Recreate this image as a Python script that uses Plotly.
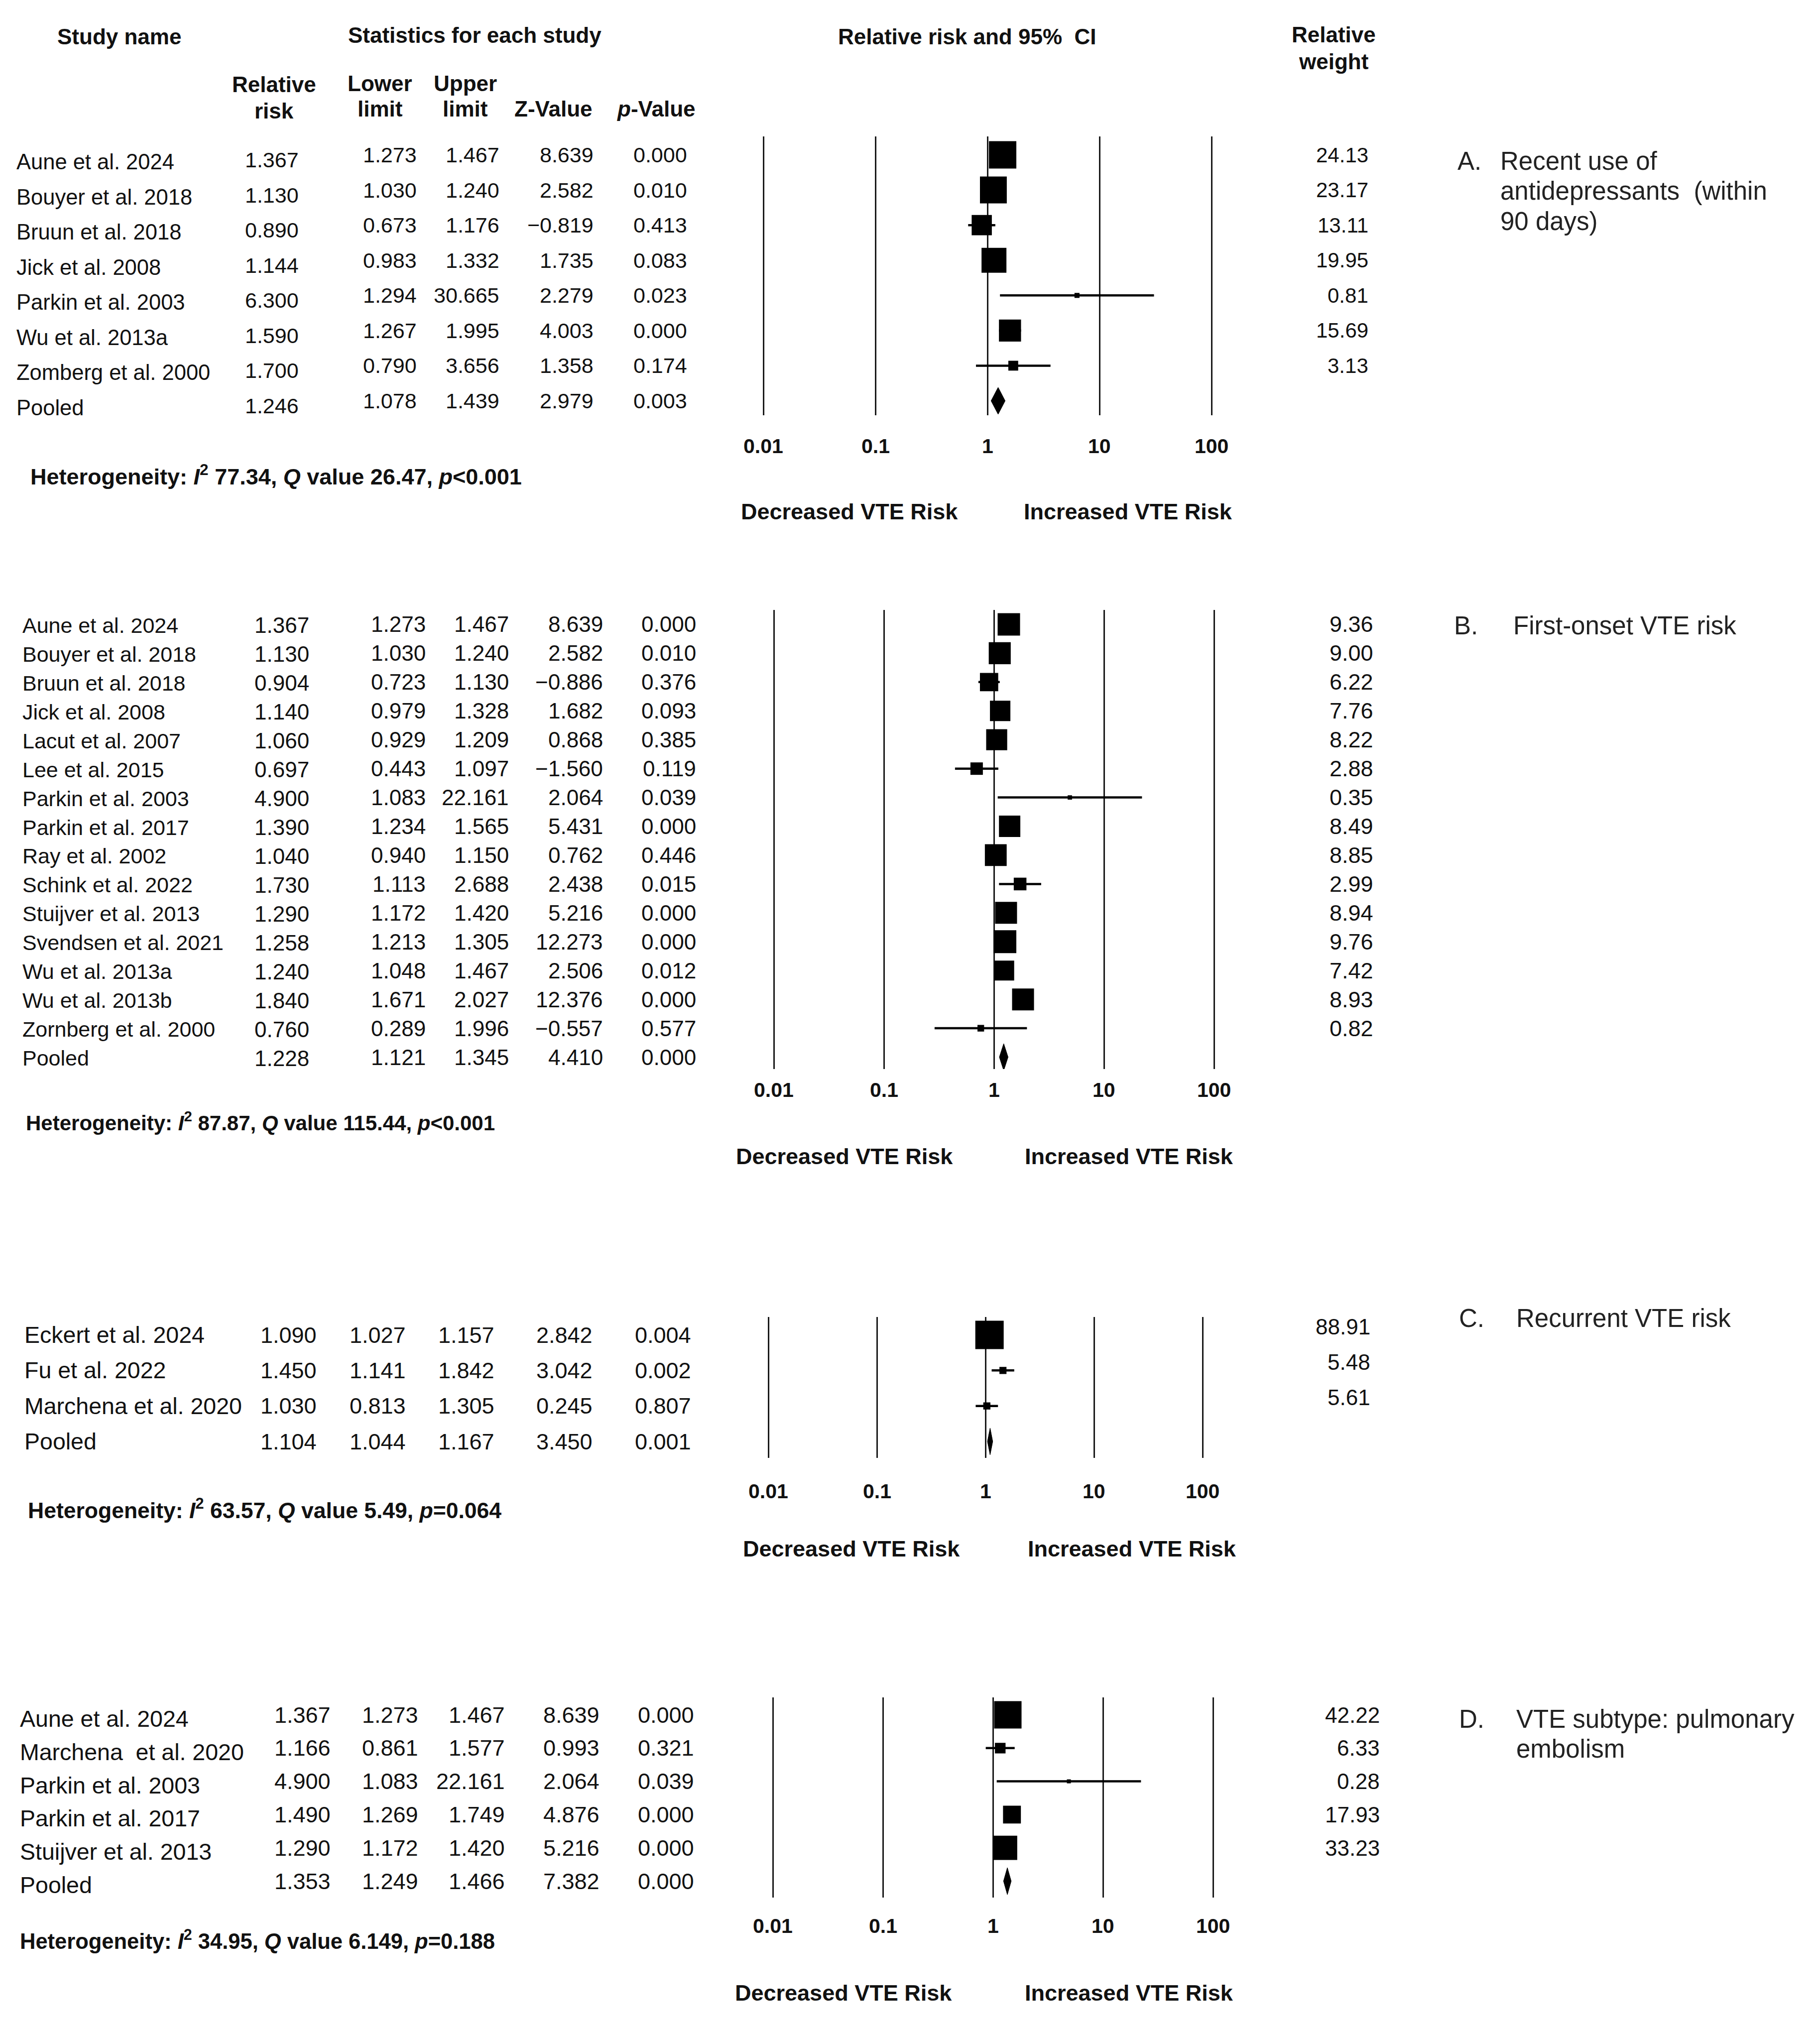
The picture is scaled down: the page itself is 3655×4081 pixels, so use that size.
import math
import plotly.graph_objects as go

# ---------------- DATA ----------------
A_names = ["Aune et al. 2024", "Bouyer et al. 2018", "Bruun et al. 2018", "Jick et al. 2008",
           "Parkin et al. 2003", "Wu et al. 2013a", "Zomberg et al. 2000", "Pooled"]
A_rr = [1.367, 1.130, 0.890, 1.144, 6.300, 1.590, 1.700, 1.246]
A_lo = [1.273, 1.030, 0.673, 0.983, 1.294, 1.267, 0.790, 1.078]
A_hi = [1.467, 1.240, 1.176, 1.332, 30.665, 1.995, 3.656, 1.439]
A_z = [8.639, 2.582, -0.819, 1.735, 2.279, 4.003, 1.358, 2.979]
A_p = [0.000, 0.010, 0.413, 0.083, 0.023, 0.000, 0.174, 0.003]
A_w = [24.13, 23.17, 13.11, 19.95, 0.81, 15.69, 3.13]
A_het = ["77.34", "26.47", "&lt;0.001"]
A_label = ["Recent use of", "antidepressants\u00a0\u00a0(within", "90 days)"]

B_names = ["Aune et al. 2024", "Bouyer et al. 2018", "Bruun et al. 2018", "Jick et al. 2008",
           "Lacut et al. 2007", "Lee et al. 2015", "Parkin et al. 2003", "Parkin et al. 2017",
           "Ray et al. 2002", "Schink et al. 2022", "Stuijver et al. 2013", "Svendsen et al. 2021",
           "Wu et al. 2013a", "Wu et al. 2013b", "Zornberg et al. 2000", "Pooled"]
B_rr = [1.367, 1.130, 0.904, 1.140, 1.060, 0.697, 4.900, 1.390, 1.040, 1.730, 1.290, 1.258,
        1.240, 1.840, 0.760, 1.228]
B_lo = [1.273, 1.030, 0.723, 0.979, 0.929, 0.443, 1.083, 1.234, 0.940, 1.113, 1.172, 1.213,
        1.048, 1.671, 0.289, 1.121]
B_hi = [1.467, 1.240, 1.130, 1.328, 1.209, 1.097, 22.161, 1.565, 1.150, 2.688, 1.420, 1.305,
        1.467, 2.027, 1.996, 1.345]
B_z = [8.639, 2.582, -0.886, 1.682, 0.868, -1.560, 2.064, 5.431, 0.762, 2.438, 5.216, 12.273,
       2.506, 12.376, -0.557, 4.410]
B_p = [0.000, 0.010, 0.376, 0.093, 0.385, 0.119, 0.039, 0.000, 0.446, 0.015, 0.000, 0.000,
       0.012, 0.000, 0.577, 0.000]
B_w = [9.36, 9.00, 6.22, 7.76, 8.22, 2.88, 0.35, 8.49, 8.85, 2.99, 8.94, 9.76, 7.42, 8.93, 0.82]
B_het = ["87.87", "115.44", "&lt;0.001"]
B_label = ["First-onset VTE risk"]

C_names = ["Eckert et al. 2024", "Fu et al. 2022", "Marchena et al. 2020", "Pooled"]
C_rr = [1.090, 1.450, 1.030, 1.104]
C_lo = [1.027, 1.141, 0.813, 1.044]
C_hi = [1.157, 1.842, 1.305, 1.167]
C_z = [2.842, 3.042, 0.245, 3.450]
C_p = [0.004, 0.002, 0.807, 0.001]
C_w = [88.91, 5.48, 5.61]
C_het = ["63.57", "5.49", "=0.064"]
C_label = ["Recurrent VTE risk"]

D_names = ["Aune et al. 2024", "Marchena\u00a0\u00a0et al. 2020", "Parkin et al. 2003",
           "Parkin et al. 2017", "Stuijver et al. 2013", "Pooled"]
D_rr = [1.367, 1.166, 4.900, 1.490, 1.290, 1.353]
D_lo = [1.273, 0.861, 1.083, 1.269, 1.172, 1.249]
D_hi = [1.467, 1.577, 22.161, 1.749, 1.420, 1.466]
D_z = [8.639, 0.993, 2.064, 4.876, 5.216, 7.382]
D_p = [0.000, 0.321, 0.039, 0.000, 0.000, 0.000]
D_w = [42.22, 6.33, 0.28, 17.93, 33.23]
D_het = ["34.95", "6.149", "=0.188"]
D_label = ["VTE subtype: pulmonary", "embolism"]

tick_values = [0.01, 0.1, 1, 10, 100]
tick_labels = ["0.01", "0.1", "1", "10", "100"]

# ---------------- LAYOUT HELPERS ----------------
PAGE_W, PAGE_H = 3655, 4081
OFF = 8
W, H = PAGE_W - 2 * OFF, PAGE_H - 2 * OFF
FONT = "Liberation Sans, Arial, sans-serif"
INK = "#111111"


def px(x):
    return (x - OFF) / W


def py(y):
    return 1 - (y - OFF) / H


def fmt(v):
    return f"{v:.3f}".replace("-", "\u2212")


panels = [
    dict(letter="A.", names=A_names, rr=A_rr, lo=A_lo, hi=A_hi, z=A_z, p=A_p, w=A_w, het=A_het, label=A_label,
         first=311, last=805, top=274, bottom=834, x_m2=1533, dec=225, tick_y=896, risk_y=1028,
         dec_x=1706, inc_x=2265, het_x=59, het_y=954, name_x=31, cols=[602, 839, 1005, 1194, 1382],
         name_dy=14, rr_dy=10, w_x=2750, w_dy=0, fs=43, nfs=43.5, wfs=42, smax=55, hfs=45,
         let_x=2925, txt_x=3011, lab_y=[323, 384, 445]),
    dict(letter="B.", names=B_names, rr=B_rr, lo=B_lo, hi=B_hi, z=B_z, p=B_p, w=B_w, het=B_het, label=B_label,
         first=1254, last=2123, top=1225, bottom=2147, x_m2=1554, dec=221, tick_y=2189, risk_y=2322,
         dec_x=1696, inc_x=2267, het_x=50, het_y=2252, name_x=43, cols=[623, 857, 1024, 1213, 1400],
         name_dy=2, rr_dy=2, w_x=2760, w_dy=0, fs=44, nfs=43, wfs=45, smax=46, hfs=42,
         let_x=2918, txt_x=3037, lab_y=[1256]),
    dict(letter="C.", names=C_names, rr=C_rr, lo=C_lo, hi=C_hi, z=C_z, p=C_p, w=C_w, het=C_het, label=C_label,
         first=2681, last=2895, top=2645, bottom=2928, x_m2=1543, dec=218, tick_y=2995, risk_y=3110,
         dec_x=1710, inc_x=2273, het_x=54, het_y=3030, name_x=47, cols=[638, 817, 995, 1192, 1390],
         name_dy=0, rr_dy=0, w_x=2754, w_dy=-17, fs=45, nfs=46.5, wfs=44, smax=57, hfs=44.5,
         let_x=2928, txt_x=3043, lab_y=[2647]),
    dict(letter="D.", names=D_names, rr=D_rr, lo=D_lo, hi=D_hi, z=D_z, p=D_p, w=D_w, het=D_het, label=D_label,
         first=3444, last=3778, top=3409, bottom=3811, x_m2=1552, dec=221, tick_y=3868, risk_y=4002,
         dec_x=1694, inc_x=2267, het_x=38, het_y=3895, name_x=38, cols=[666, 842, 1016, 1206, 1396],
         name_dy=8, rr_dy=0, w_x=2773, w_dy=0, fs=45, nfs=46.5, wfs=44, smax=55, hfs=43.5,
         let_x=2928, txt_x=3043, lab_y=[3452, 3512]),
]

fig = go.Figure()
annotations = []


def ann(text, x, y, xref="paper", yref="paper", size=44, bold=False, xanchor="center", color=INK):
    annotations.append(dict(
        text=f"<b>{text}</b>" if bold else text, x=x, y=y, xref=xref, yref=yref,
        xanchor=xanchor, yanchor="middle", showarrow=False,
        font=dict(family=FONT, size=size, color=color)))


# ---------------- HEADERS ----------------
ann("Study name", px(240), py(73), bold=True)
ann("Statistics for each study", px(953), py(70), bold=True)
ann("Relative risk and 95%\u00a0\u00a0CI", px(1942), py(73), bold=True)
ann("Relative", px(2678), py(69), bold=True)
ann("weight", px(2678), py(124), bold=True)
ann("Relative", px(550), py(169), bold=True)
ann("risk", px(550), py(223), bold=True)
ann("Lower", px(763), py(167), bold=True)
ann("limit", px(763), py(219), bold=True)
ann("Upper", px(934), py(167), bold=True)
ann("limit", px(934), py(219), bold=True)
ann("Z-Value", px(1111), py(219), bold=True)
ann("<i>p</i>-Value", px(1318), py(219), bold=True)

# ---------------- PANELS ----------------
layout_axes = {}
for k, P in enumerate(panels):
    idx = "" if k == 0 else str(k + 1)
    xa, ya = "x" + idx, "y" + idx
    n = len(P["names"])
    s = (P["last"] - P["first"]) / (n - 1)
    dec = P["dec"]
    layout_axes["xaxis" + idx] = dict(
        type="log", range=[-2.15, 2.15],
        domain=[px(P["x_m2"] - 0.15 * dec), px(P["x_m2"] + 4.15 * dec)],
        tickvals=tick_values, showticklabels=False, ticks="",
        showgrid=True, gridcolor="#1a1a1a", gridwidth=3,
        zeroline=False, showline=False, anchor=ya, fixedrange=True)
    layout_axes["yaxis" + idx] = dict(
        domain=[py(P["bottom"]), py(P["top"])],
        range=[(n - 1) + (P["bottom"] - P["last"]) / s, -(P["first"] - P["top"]) / s],
        showgrid=False, showticklabels=False, zeroline=False, showline=False,
        ticks="", anchor=xa, fixedrange=True)

    ns = len(P["w"])
    rows = list(range(ns))
    # CI lines
    lx, ly = [], []
    for i in rows:
        lx += [P["lo"][i], P["hi"][i], None]
        ly += [i, i, None]
    fig.add_trace(go.Scatter(x=lx, y=ly, mode="lines", line=dict(color="#000000", width=4.5),
                             xaxis=xa, yaxis=ya, showlegend=False, hoverinfo="skip"))
    # weight squares
    wmax = max(P["w"])
    sizes = [max(8, P["smax"] * (wv / wmax) ** 0.5) for wv in P["w"]]
    fig.add_trace(go.Scatter(x=P["rr"][:ns], y=rows, mode="markers",
                             marker=dict(symbol="square", size=sizes, color="#000000",
                                         opacity=1, line=dict(width=0)),
                             xaxis=xa, yaxis=ya, showlegend=False))
    # pooled diamond
    j = n - 1
    hh = 27 / s
    fig.add_trace(go.Scatter(x=[P["lo"][j], P["rr"][j], P["hi"][j], P["rr"][j], P["lo"][j]],
                             y=[j, j - hh, j, j + hh, j], mode="lines", fill="toself",
                             fillcolor="#000000", line=dict(color="#000000", width=1),
                             xaxis=xa, yaxis=ya, showlegend=False, hoverinfo="skip"))

    # table text
    for i in range(n):
        ann(P["names"][i], px(P["name_x"]), i + P["name_dy"] / s, yref=ya, size=P["nfs"], xanchor="left")
        vals = [P["rr"][i], P["lo"][i], P["hi"][i], P["z"][i], P["p"][i]]
        for c, v in enumerate(vals):
            dy = P["rr_dy"] / s if c == 0 else 0
            ann(fmt(v), px(P["cols"][c]), i + dy, yref=ya, size=P["fs"], xanchor="right")
    for i in rows:
        ann(f"{P['w'][i]:.2f}", px(P["w_x"]), i + P["w_dy"] / s, yref=ya, size=P["wfs"], xanchor="right")

    # tick labels (annotation x on a log axis is given in log10 units)
    for tv, tl in zip(tick_values, tick_labels):
        ann(tl, math.log10(tv), py(P["tick_y"]), xref=xa, size=41, bold=True)
    ann("Decreased VTE Risk", px(P["dec_x"]), py(P["risk_y"]), size=45, bold=True)
    ann("Increased VTE Risk", px(P["inc_x"]), py(P["risk_y"]), size=45, bold=True)

    i2, q, pv = P["het"]
    ann(f"Heterogeneity: <i>I</i><sup>2</sup> {i2}, <i>Q</i> value {q}, <i>p</i>{pv}",
        px(P["het_x"]), py(P["het_y"]), size=P["hfs"], bold=True, xanchor="left")

    # panel labels
    ann(P["letter"], px(P["let_x"]), py(P["lab_y"][0]), size=51, xanchor="left", color="#222222")
    for line, ly_ in zip(P["label"], P["lab_y"]):
        ann(line, px(P["txt_x"]), py(ly_), size=51, xanchor="left", color="#222222")

fig.update_layout(
    width=W, height=H, autosize=False,
    margin=dict(l=0, r=0, t=0, b=0, pad=0),
    paper_bgcolor="white", plot_bgcolor="white",
    showlegend=False, annotations=annotations,
    font=dict(family=FONT, color=INK),
    **layout_axes)

fig.write_html("out.html")
